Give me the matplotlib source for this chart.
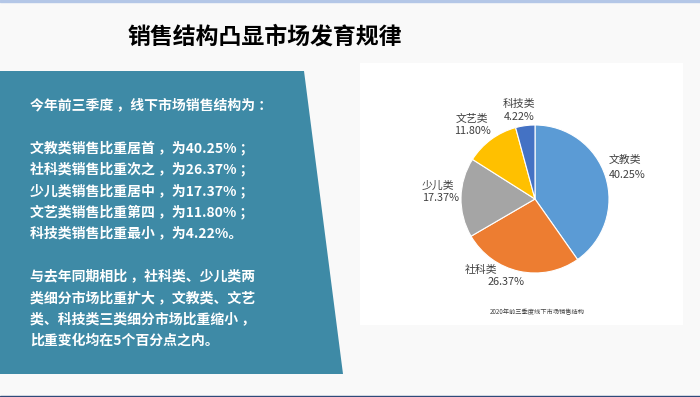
import matplotlib.pyplot as plt
from matplotlib.patches import Polygon, Rectangle

plt.rcParams['font.family'] = ['Noto Sans CJK SC', 'DejaVu Sans']

# data
categories = ['文教类', '社科类', '少儿类', '文艺类', '科技类']
shares = [40.25, 26.37, 17.37, 11.80, 4.22]
colors = ['#5B9BD5', '#ED7D31', '#A5A5A5', '#FFC000', '#4472C4']
ranks = ['居首', '次之', '居中', '第四', '最小']

title = '销售结构凸显市场发育规律'
caption = '2020年前三季度线下市场销售结构'
intro = '今年前三季度，线下市场销售结构为：'
summary = ['与去年同期相比，社科类、少儿类两',
           '类细分市场比重扩大，文教类、文艺',
           '类、科技类三类细分市场比重缩小，',
           '比重变化均在5个百分点之内。']

W, H = 700, 397
fig = plt.figure(figsize=(W / 100, H / 100), dpi=100)
fig.patch.set_facecolor('#f9f9f9')

# background layer in pixel coords
bg = fig.add_axes([0, 0, 1, 1])
bg.set_xlim(0, W)
bg.set_ylim(H, 0)
bg.axis('off')

bg.add_patch(Rectangle((0, 0), W, 1.5, color='#b4c7e7'))
bg.add_patch(Rectangle((0, 395.5), W, 1.5, color='#2f4a7a'))
bg.add_patch(Polygon([(0, 71), (304, 71), (343, 374), (0, 374)], closed=True,
                     color='#3e8aa6', lw=0))
bg.add_patch(Rectangle((360, 63), 323, 262, color='white', lw=0))

bg.text(265, 37, title, fontsize=16.5, fontweight='bold', color='black',
        ha='center', va='center')

# left panel text
lines = [intro, '']
for i, (c, r, s) in enumerate(zip(categories, ranks, shares)):
    end = '。' if i == len(categories) - 1 else ' ；'
    lines.append(f'{c}销售比重{r}，为{s:.2f}%{end}')
lines.append('')
lines += summary

y = 105
for ln in lines:
    if ln:
        bg.text(30, y, ln.replace('，', ' ，').replace('：', ' ：'), fontsize=10,
                fontweight='bold', color='white', ha='left', va='center')
    y += 21.4 if ln else 21.6

bg.text(537, 312, caption, fontsize=4.5, color='#404040', ha='center', va='center')

# pie
cx, cy, R = 535, 199, 74
ax = fig.add_axes([(cx - R) / W, (H - cy - R) / H, 2 * R / W, 2 * R / H])
ax.pie(shares, colors=colors, startangle=90, counterclock=False, radius=1,
       wedgeprops=dict(edgecolor='white', linewidth=0.8))
ax.set_xlim(-1, 1)
ax.set_ylim(-1, 1)
ax.axis('off')

# data label positions (pie radius units)
label_pos = {
    '文教类': [(1.22, 0.53), (1.24, 0.32)],
    '社科类': [(-0.73, -0.96), (-0.39, -1.12)],
    '少儿类': [(-1.31, 0.18), (-1.28, 0.01)],
    '文艺类': [(-0.85, 1.08), (-0.85, 0.92)],
    '科技类': [(-0.22, 1.28), (-0.22, 1.11)],
}
for c, s in zip(categories, shares):
    (x1, y1), (x2, y2) = label_pos[c]
    ax.text(x1, y1, c, fontsize=7.8, color='#404040', ha='center', va='center', clip_on=False)
    ax.text(x2, y2, f'{s:.2f}%', fontsize=7.8, color='#404040', ha='center', va='center', clip_on=False)

fig.savefig('out.png', dpi=100)
